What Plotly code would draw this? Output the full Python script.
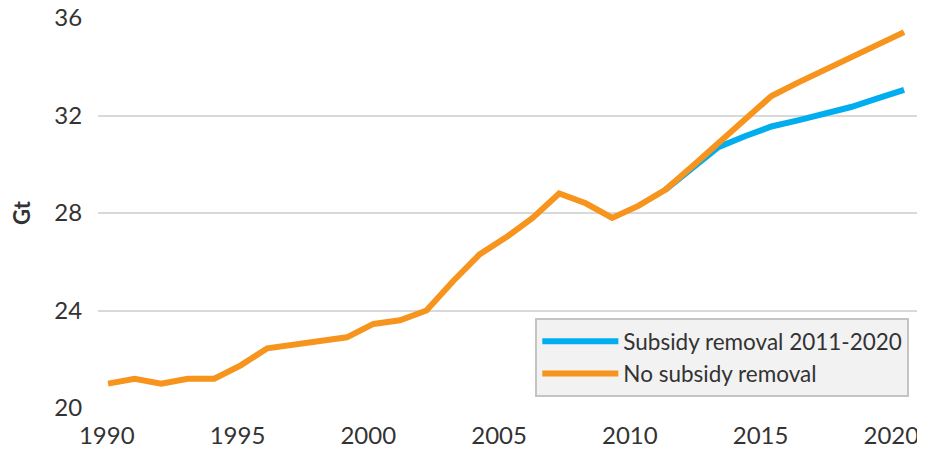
import plotly.graph_objects as go

years = list(range(1990, 2021))
no_removal = [21.0, 21.2, 21.0, 21.2, 21.2, 21.75, 22.45, 22.6, 22.75, 22.9,
              23.45, 23.6, 24.0, 25.2, 26.3, 27.0, 27.8, 28.8, 28.4, 27.8,
              28.3, 28.95, 29.9, 30.85, 31.8, 32.8, 33.35, 33.87, 34.38, 34.9, 35.42]
sub_years = list(range(2011, 2021))
subsidy_removal = [28.95, 29.85, 30.7, 31.15, 31.55, 31.8, 32.05, 32.35, 32.7, 33.05]

x_labels = [1990, 1995, 2000, 2005, 2010, 2015, 2020]
y_ticks = [20, 24, 28, 32, 36]

ORANGE = "#F7941D"
BLUE = "#00AEEF"
TEXT = "#333333"
GRID = "#d9d9d9"
FONT = "Lato, 'Open Sans', sans-serif"

# label spacing in the source is slightly tighter than the point spacing
label_pos = [1990 + (v - 1990) * 0.9857 - 0.05 for v in x_labels]

fig = go.Figure()
fig.add_trace(go.Scatter(x=sub_years, y=subsidy_removal, mode="lines",
                         name="Subsidy removal 2011-2020",
                         line=dict(color=BLUE, width=6)))
fig.add_trace(go.Scatter(x=years, y=no_removal, mode="lines",
                         name="No subsidy removal",
                         line=dict(color=ORANGE, width=6)))

# page body has an 8px default margin, so the figure is sized to compensate
fig.update_layout(
    width=917, height=442,
    margin=dict(l=90, r=5, t=10, b=42, autoexpand=False),
    paper_bgcolor="white", plot_bgcolor="white",
    font=dict(family=FONT, color=TEXT, size=24),
    showlegend=True,
    legend=dict(x=0.987, xanchor="right", y=0.028, yanchor="bottom",
                bgcolor="#f2f2f2", bordercolor="#c4c4c4", borderwidth=2,
                font=dict(size=22.5, color=TEXT), traceorder="normal",
                tracegroupgap=0, itemwidth=76),
    xaxis=dict(range=[1989.62, 2020.6], tickmode="array",
               tickvals=label_pos, ticktext=[str(v) for v in x_labels],
               showgrid=False, zeroline=False, showline=False,
               ticks="outside", ticklen=6, tickcolor="rgba(0,0,0,0)",
               tickfont=dict(size=24), automargin=False,
               ticklabeloverflow="allow"),
    yaxis=dict(range=[20, 36.001], tickmode="array", tickvals=y_ticks,
               showgrid=True, gridcolor=GRID, gridwidth=2, zeroline=False,
               showline=False, ticks="outside", ticklen=10,
               tickcolor="rgba(0,0,0,0)", tickfont=dict(size=24),
               automargin=False, ticklabeloverflow="allow",
               title=dict(text="<b>Gt</b>", font=dict(size=22), standoff=18)),
)

fig.write_html("out.html")
